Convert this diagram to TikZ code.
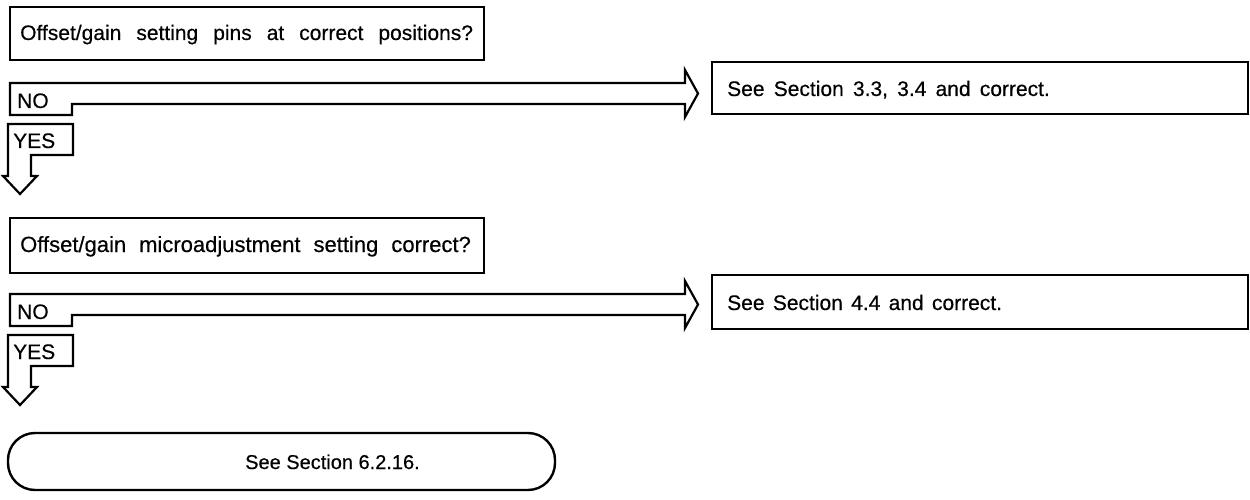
\documentclass[tikz,border=0pt]{standalone}
\usepackage{fontspec}
\setmainfont[FakeBold=0.4]{Liberation Sans}
\newcommand\widesp[2][21]{\fontsize{#1}{24}\selectfont\spaceskip=#2\relax}
\begin{document}
\begin{tikzpicture}[x=1pt,y=-1pt,line join=miter,
  outl/.style={draw=black,line width=2.2pt},
  boxl/.style={draw=black,line width=2.4pt},
  wtxt/.style={anchor=base west,inner sep=0pt},
  ntxt/.style={font=\fontsize{21}{24}\selectfont,anchor=base west,inner sep=0pt}]
\useasboundingbox (0,0) rectangle (1250,500);
% ---------- section 1
\draw[boxl] (10,7) rectangle (484,60);
\node[wtxt] (q1) at (20,40) {\widesp{15pt}Offset/gain setting pins at correct positions?};
\draw[outl] (10,83) -- (685,83) -- (685,70) -- (698,93.5) -- (685,117) -- (685,104) -- (72,104) -- (72,115) -- (10,115) -- cycle;
\node[ntxt] (no1) at (17,108) {NO};
\draw[boxl] (712,62) rectangle (1248,114);
\node[wtxt] (r1) at (727,96) {\widesp{9.2pt}See Section 3.3, 3.4 and correct.};
\draw[outl] (8,124) -- (73,124) -- (73,155) -- (31,155) -- (31,176) -- (37,176) -- (20,194) -- (3,176) -- (8,176) -- cycle;
\node[ntxt] (yes1) at (13,148) {YES};
% ---------- section 2
\begin{scope}[yshift=-211pt]
\draw[boxl] (10,7) rectangle (484,62);
\node[wtxt] (q2) at (20,41) {\widesp[22]{13pt}Offset/gain microadjustment setting correct?};
\draw[outl] (10,83) -- (685,83) -- (685,70) -- (698,93.5) -- (685,117) -- (685,104) -- (72,104) -- (72,115) -- (10,115) -- cycle;
\node[ntxt] (no2) at (17,108) {NO};
\draw[boxl] (712,64) rectangle (1248,118);
\node[wtxt] (r2) at (727,99) {\widesp{8.3pt}See Section 4.4 and correct.};
\draw[outl] (8,124) -- (73,124) -- (73,155) -- (31,155) -- (31,176) -- (37,176) -- (20,194) -- (3,176) -- (8,176) -- cycle;
\node[ntxt] (yes2) at (13,148) {YES};
\end{scope}
% ---------- final
\draw[boxl,rounded corners=27pt] (8,433) rectangle (555,490);
\node[ntxt,font=\fontsize{20}{24}\selectfont] (fin) at (245,469) {See Section 6.2.16.};
\end{tikzpicture}
\end{document}
